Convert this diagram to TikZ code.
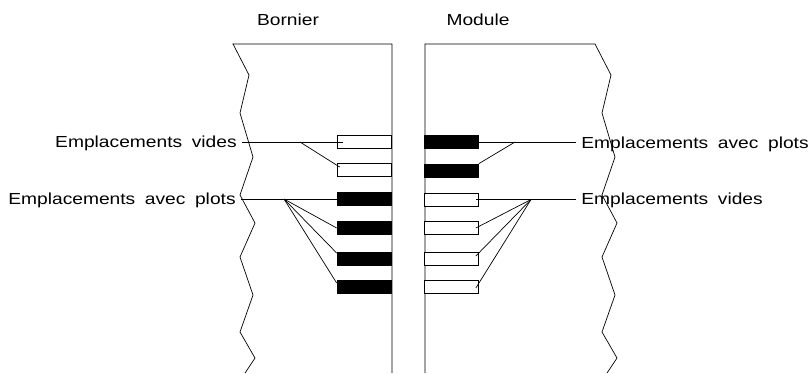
\documentclass[tikz,border=0pt]{standalone}
\usepackage{fontspec}
\setmainfont{Liberation Sans}[FakeStretch=1.2,WordSpace=1.8]
% ragged edge, relative moves from the top corner
\def\rag{ -- ++(16,31) -- ++(-9,38) -- ++(13,44) -- ++(-13,38) -- ++(15,28)
   -- ++(-15,34) -- ++(13,38) -- ++(-13,37) -- ++(15,26) -- ++(-10,15) }

\begin{document}
\begin{tikzpicture}[x=1pt,y=-1pt,line width=0.7pt,
   vide/.style={draw,rectangle,fill=white,minimum width=54pt,minimum height=13pt,inner sep=0pt},
   plot/.style={vide,fill=black},
   lbl/.style={font=\fontsize{16}{18}\selectfont,inner xsep=5pt,inner ysep=0pt}]
   \useasboundingbox (0,0) rectangle (810,373);
   \node[lbl,anchor=base] (bornier) at (288,25) {Bornier};
   \node[lbl,anchor=base] (module) at (478,25) {Module};
   \draw (392,373) -- (392,44) -- (233,44) \rag;
   \draw (425,373) -- (425,44) -- (595,44) \rag;
   \foreach \i/\y/\s in {1/142/vide,2/170/vide,3/199/plot,4/228/plot,5/258.5/plot,6/287/plot}
      \node[\s] (b\i) at (364,\y) {};
   \foreach \i/\y/\s in {1/142/plot,2/170.5/plot,3/199.5/vide,4/228/vide,5/258.5/vide,6/287/vide}
      \node[\s] (m\i) at (451.5,\y) {};
   \node[lbl,anchor=base east] (bvide) at (242,147.5) {Emplacements vides};
   \node[lbl,anchor=base east] (bplot) at (241,204.5) {Emplacements avec plots};
   \node[lbl,anchor=base west] (mplot) at (576,148.5) {Emplacements avec plots};
   \node[lbl,anchor=base west] (mvide) at (576,204.5) {Emplacements vides};
   \coordinate (bf1) at (300,142);
   \coordinate (bf2) at (284,199);
   \coordinate (mf1) at (515,142);
   \coordinate (mf2) at (531,199.5);
   \draw (bvide.east |- b1) -- ([shift={(6,0)}]b1.west);
   \draw (bf1) -- ([shift={(3,-3)}]b2.west);
   \draw (bplot.east |- b3) -- (b3.west);
   \draw (bf2) -- (b4.west);
   \draw (bf2) -- ([shift={(0,-5.5)}]b5.west);
   \draw (bf2) -- ([shift={(0,-4)}]b6.west);
   \draw (mplot.west |- m1) -- (m1.east);
   \draw (mf1) -- (m2.north east);
   \draw (mvide.west |- m3) -- ([shift={(-3,0)}]m3.east);
   \draw (mf2) -- ([shift={(-3,0)}]m4.east);
   \draw (mf2) -- ([shift={(-3,-2.5)}]m5.east);
   \draw (mf2) -- ([shift={(-3,1)}]m6.east);
\end{tikzpicture}
\end{document}
